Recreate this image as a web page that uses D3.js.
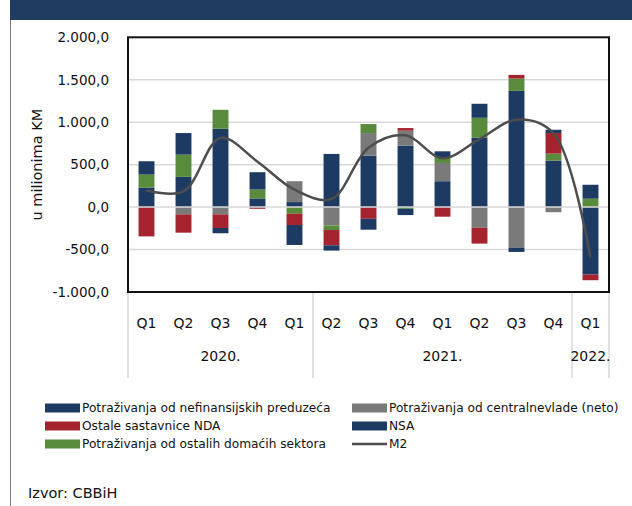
<!DOCTYPE html>
<html>
<head>
    <script src="https://cdn.jsdelivr.net/npm/d3@7"></script>
    <style>
        body { margin: 0; background: #ffffff; }
    </style>
</head>

<body>
<div id="chart"></div>

<script>

    // categories (quarter labels repeat, so bars are placed by index)
    var quarters = ['Q1', 'Q2', 'Q3', 'Q4', 'Q1', 'Q2', 'Q3', 'Q4', 'Q1', 'Q2', 'Q3', 'Q4', 'Q1'];
    var yearLabels = ['2020.', '2021.', '2022.'];
    var yearCounts = [5, 7, 1];

    // series, in stacking order (millions KM)
    var nsa      = [231, 356, 923, 102, 59, 626, 606, 724, 305, 818, 1369, 548, -794];
    var centGov  = [0, -86, -86, 0, 246, -215, 266, 176, 215, -243, -477, -60, 0];
    var otherDom = [152, 262, 223, 105, -78, -55, 106, -20, 67, 234, 145, 82, 99];
    var otherNda = [-345, -215, -160, -20, -133, -180, -137, 31, -113, -187, 43, 242, -67];
    var nonFin   = [157, 254, -62, 204, -235, -62, -129, -74, 70, 165, -51, 39, 164];
    var m2       = [196, 185, 815, 535, 205, 95, 700, 845, 575, 800, 1030, 870, -594];

    var yTicks = [-1000, -500, 0, 500, 1000, 1500, 2000];

    var navy = '#1c3a62', gray = '#7a7a7a', green = '#598b3d', red = '#a4232f';

    var series = [
        { key: 'nsa', values: nsa, color: navy },
        { key: 'centGov', values: centGov, color: gray },
        { key: 'otherDom', values: otherDom, color: green },
        { key: 'otherNda', values: otherNda, color: red },
        { key: 'nonFin', values: nonFin, color: navy }
    ];

    var legendItems = [
        { name: 'Potraživanja od nefinansijskih preduzeća', color: navy, col: 0, row: 0 },
        { name: 'Ostale sastavnice NDA', color: red, col: 0, row: 1 },
        { name: 'Potraživanja od ostalih domaćih sektora', color: green, col: 0, row: 2 },
        { name: 'Potraživanja od centralnevlade (neto)', color: gray, col: 1, row: 0 },
        { name: 'NSA', color: navy, col: 1, row: 1 },
        { name: 'M2', color: '#4d4d4d', col: 1, row: 2, line: true }
    ];

    var width = 632;
    var height = 506;
    var font = 'DejaVu Sans';
    var textColor = '#111111';

    var svg = d3.select('#chart').append('svg')
        .attr('width', width)
        .attr('height', height);

    // header band and left frame line
    svg.append('rect')
        .attr('x', 10).attr('y', 0)
        .attr('width', width - 10).attr('height', 20)
        .attr('fill', '#1f3b5f');

    svg.append('line')
        .attr('x1', 10.5).attr('x2', 10.5)
        .attr('y1', 20).attr('y2', height)
        .attr('stroke', '#777777').attr('stroke-width', 1);

    var rows = quarters.map(function(q, i) {
        var r = { i: i };
        series.forEach(function(s) { r[s.key] = s.values[i]; });
        return r;
    });

    var x = d3.scaleBand()
        .domain(d3.range(quarters.length))
        .range([128, 609])
        .paddingInner(0.57)
        .paddingOuter(0.285);

    var y = d3.scaleLinear()
        .domain([-1000, 2000])
        .range([292, 37.3]);

    // gridlines
    svg.append('g')
        .selectAll('line')
        .data(yTicks.filter(function(d) { return d !== 0 && d !== -1000 && d !== 2000; }))
        .enter()
        .append('line')
        .attr('x1', 128).attr('x2', 609)
        .attr('y1', function(d) { return y(d); })
        .attr('y2', function(d) { return y(d); })
        .attr('stroke', '#d9d9d9')
        .attr('stroke-width', 1.5);

    var stack = d3.stack()
        .keys(series.map(function(s) { return s.key; }))
        .offset(d3.stackOffsetDiverging);

    var layers = stack(rows);

    svg.append('g')
        .selectAll('g')
        .data(layers)
        .enter()
        .append('g')
        .attr('fill', function(d, i) { return series[i].color; })
        .selectAll('rect')
        .data(function(d) { return d; })
        .enter()
        .append('rect')
        .attr('x', function(d) { return x(d.data.i); })
        .attr('width', x.bandwidth())
        .attr('y', function(d) { return y(Math.max(d[0], d[1])); })
        .attr('height', function(d) { return Math.abs(y(d[0]) - y(d[1])); });

    // zero line in front of the bars
    svg.append('line')
        .attr('x1', 128).attr('x2', 609)
        .attr('y1', y(0)).attr('y2', y(0))
        .attr('stroke', '#d9d9d9')
        .attr('stroke-width', 1.5);

    // M2 smoothed line
    var line = d3.line()
        .x(function(d, i) { return x(i) + x.bandwidth() / 2; })
        .y(function(d) { return y(d); })
        .curve(d3.curveCatmullRom.alpha(0.5));

    svg.append('path')
        .datum(m2)
        .attr('d', line)
        .attr('fill', 'none')
        .attr('stroke', '#4d4d4d')
        .attr('stroke-width', 2.5);

    // plot frame
    svg.append('rect')
        .attr('x', 128).attr('y', y(2000))
        .attr('width', 609 - 128).attr('height', y(-1000) - y(2000))
        .attr('fill', 'none')
        .attr('stroke', '#111111')
        .attr('stroke-width', 2);

    // y axis labels
    var locale = d3.formatLocale({ decimal: ',', thousands: '.', grouping: [3], currency: ['', ''], minus: '-' });
    var fmt = locale.format(',.1f');

    var yAxis = svg.append('g')
        .attr('transform', 'translate(128,0)')
        .call(d3.axisLeft(y).tickValues(yTicks).tickSize(0).tickPadding(19).tickFormat(fmt));

    yAxis.select('.domain').remove();
    yAxis.selectAll('text')
        .attr('font-family', font)
        .attr('font-size', 13.5)
        .attr('fill', textColor);

    svg.append('text')
        .attr('transform', 'translate(42,' + ((y(2000) + y(-1000)) / 2) + ') rotate(-90)')
        .attr('text-anchor', 'middle')
        .attr('font-family', font)
        .attr('font-size', 14.5)
        .attr('fill', textColor)
        .text('u milionima KM');

    // category axis: quarters, years and group separators
    svg.append('g')
        .selectAll('text')
        .data(quarters)
        .enter()
        .append('text')
        .attr('x', function(d, i) { return x(i) + x.bandwidth() / 2; })
        .attr('y', 323)
        .attr('dy', '0.35em')
        .attr('text-anchor', 'middle')
        .attr('font-family', font)
        .attr('font-size', 14)
        .attr('fill', textColor)
        .text(function(d) { return d; });

    var step = x.step();
    var bounds = [0];
    yearCounts.forEach(function(c, i) { bounds.push(bounds[i] + c); });

    svg.append('g')
        .selectAll('line')
        .data(bounds)
        .enter()
        .append('line')
        .attr('x1', function(d) { return 128 + d * step; })
        .attr('x2', function(d) { return 128 + d * step; })
        .attr('y1', 293)
        .attr('y2', 378)
        .attr('stroke', '#d9d9d9')
        .attr('stroke-width', 1.5);

    svg.append('g')
        .selectAll('text')
        .data(yearLabels)
        .enter()
        .append('text')
        .attr('x', function(d, i) { return 128 + (bounds[i] + bounds[i + 1]) / 2 * step; })
        .attr('y', 356)
        .attr('dy', '0.35em')
        .attr('text-anchor', 'middle')
        .attr('font-family', font)
        .attr('font-size', 14)
        .attr('fill', textColor)
        .text(function(d) { return d; });

    // legend
    var legend = svg.append('g')
        .attr('class', 'legend');

    var entries = legend.selectAll('g.legend-entry')
        .data(legendItems)
        .enter()
        .append('g')
        .attr('class', 'legend-entry')
        .attr('transform', function(d) { return 'translate(' + (d.col ? 352 : 45) + ',' + (408 + d.row * 18) + ')'; });

    entries.filter(function(d) { return !d.line; })
        .append('rect')
        .attr('x', 0).attr('y', -4.5)
        .attr('width', 35).attr('height', 9)
        .attr('fill', function(d) { return d.color; });

    entries.filter(function(d) { return d.line; })
        .append('line')
        .attr('x1', 0).attr('x2', 35)
        .attr('stroke', function(d) { return d.color; })
        .attr('stroke-width', 2.5);

    entries.append('text')
        .attr('x', 37)
        .attr('dy', '0.35em')
        .attr('font-family', font)
        .attr('font-size', 12.2)
        .attr('fill', textColor)
        .text(function(d) { return d.name; });

    svg.append('text')
        .attr('x', 28)
        .attr('y', 493)
        .attr('dy', '0.35em')
        .attr('font-family', font)
        .attr('font-size', 14.5)
        .attr('fill', textColor)
        .text('Izvor: CBBiH');

</script>
</body>
</html>
